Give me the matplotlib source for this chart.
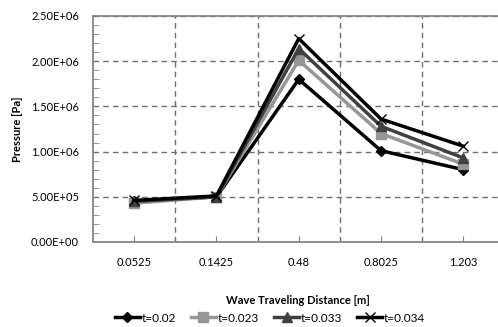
import matplotlib
matplotlib.use("Agg")
import matplotlib.pyplot as plt
from matplotlib.ticker import FixedLocator, MultipleLocator

plt.rcParams['font.family'] = ['Lato', 'DejaVu Sans']

categories = ["0.0525", "0.1425", "0.48", "0.8025", "1.203"]
series_names = ["t=0.02", "t=0.023", "t=0.033", "t=0.034"]
t002 = [4.5e5, 5.0e5, 1.80e6, 1.01e6, 0.80e6]
t0023 = [4.3e5, 5.0e5, 2.01e6, 1.20e6, 0.86e6]
t0033 = [4.5e5, 5.0e5, 2.14e6, 1.28e6, 0.93e6]
t0034 = [4.6e5, 5.1e5, 2.25e6, 1.36e6, 1.06e6]
yticks = [0, 5e5, 1e6, 1.5e6, 2e6, 2.5e6]
ytick_labels = ["0.00E+00", "5.00E+05", "1.00E+06", "1.50E+06", "2.00E+06", "2.50E+06"]

fig = plt.figure(figsize=(4.98, 3.27), dpi=100)
ax = fig.add_axes([93/498, 85/327, 411.5/498, 226/327])

x = list(range(len(categories)))
styles = [
    dict(color="#000000", marker="D", ms=5.5, mec="#000000", mfc="#000000"),
    dict(color="#969696", marker="s", ms=7, mec="#969696", mfc="#969696"),
    dict(color="#404040", marker="^", ms=7.5, mec="#404040", mfc="#404040"),
    dict(color="#000000", marker="x", ms=7.5, mew=1.0),
]
for vals, name, st in zip([t002, t0023, t0033, t0034], series_names, styles):
    ax.plot(x, vals, lw=2.5, label=name, zorder=3, **st)

ax.set_xlim(-0.5, 4.5)
ax.set_ylim(0, 2.5e6)
ax.set_xticks(x)
ax.set_xticklabels(categories)
ax.xaxis.set_minor_locator(FixedLocator([0.5, 1.5, 2.5, 3.5]))
ax.set_yticks(yticks)
ax.set_yticklabels(ytick_labels)
ax.yaxis.set_minor_locator(MultipleLocator(1e5))

ax.tick_params(axis='x', which='major', direction='in', length=4, pad=11,
               labelsize=8, color="#808080")
ax.tick_params(axis='x', which='minor', length=0)
ax.tick_params(axis='y', which='major', length=0, pad=10, labelsize=8)
ax.tick_params(axis='y', which='minor', direction='in', length=4, color="#808080")

ax.grid(axis='x', which='minor', ls=(0, (4, 3)), color="#6e6e6e", lw=1.0)
ax.grid(axis='y', which='major', ls=(0, (4, 3)), color="#6e6e6e", lw=1.0)
ax.set_axisbelow(True)

for s in ['left', 'bottom', 'top']:
    ax.spines[s].set_color("#868686")
    ax.spines[s].set_linewidth(1.3)
ax.spines['right'].set_visible(False)

ax.set_xlabel("Wave Traveling Distance [m]", fontsize=8, fontweight='bold')
ax.set_ylabel("Pressure [Pa]", fontsize=8, fontweight='bold')
ax.xaxis.set_label_coords((298 - 93) / 411.5, -(295 - 242) / 226)
ax.yaxis.set_label_coords(-(93 - 23) / 411.5, 0.5)

leg = fig.legend(loc='center', bbox_to_anchor=(270/498, 9/327), ncol=4, frameon=False,
                 fontsize=8.5, handlelength=2.1, columnspacing=1.3, handletextpad=0.15)

fig.savefig("out.png", dpi=100)
